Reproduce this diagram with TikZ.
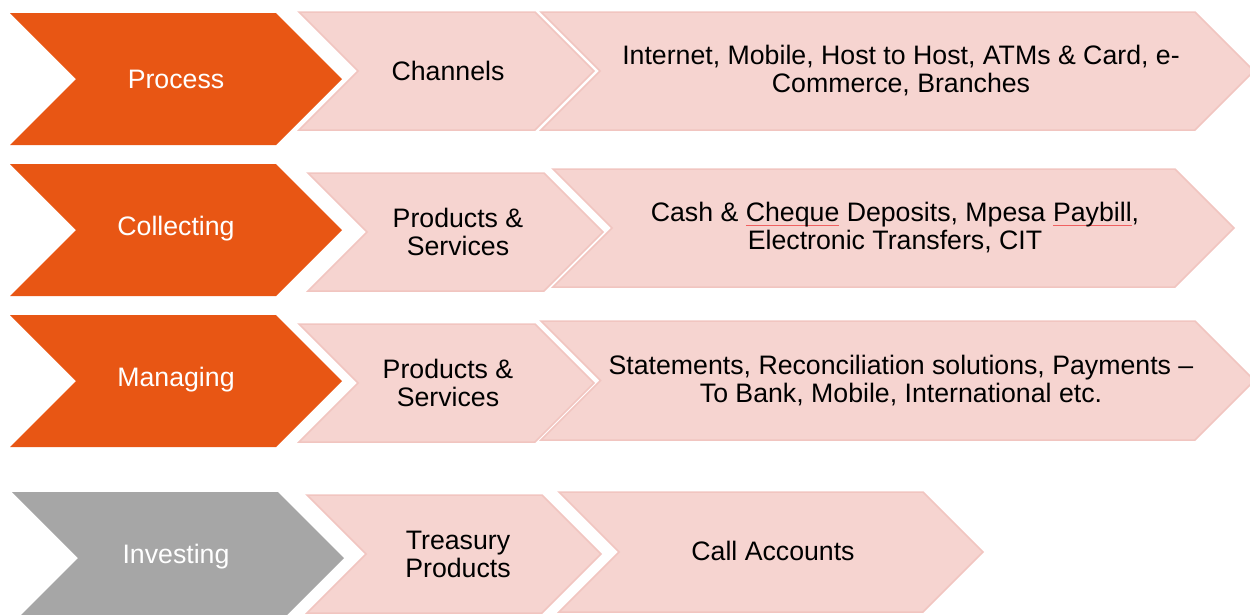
\documentclass[tikz,border=0pt]{standalone}
\usepackage{fontspec}
\setmainfont{Liberation Sans}
\definecolor{orng}{HTML}{E85614}
\definecolor{pinkfill}{HTML}{F6D4D0}
\definecolor{pinkline}{HTML}{F1C5C0}
\definecolor{graych}{HTML}{A6A6A6}
\definecolor{spellred}{HTML}{F06060}
\newcommand\spellul[1]{\setbox0\hbox{#1}\rlap{\color{spellred}\rule[-4pt]{\wd0}{0.9pt}}\box0\relax}
% #1 style, #2 left x, #3 right corner x, #4 top y, #5 bottom y
\newcommand\chev[5]{%
  \path[#1] (#2,#4) -- (#3,#4) -- ({#3+(#5-#4)/2},{(#4+#5)/2}) -- (#3,#5) -- (#2,#5) -- ({#2+(#5-#4)/2},{(#4+#5)/2}) -- cycle;}
\tikzset{
  lead/.style={fill=orng},
  leadgray/.style={fill=graych},
  follow/.style={fill=pinkfill, draw=pinkline, line width=1.5pt, line join=miter},
  whitetxt/.style={text=white, font=\fontsize{26.7}{28}\selectfont, align=center, inner sep=0pt},
  blacktxt/.style={text=black, font=\fontsize{26.7}{28}\selectfont, align=center, inner sep=0pt},
}
\begin{document}
\begin{tikzpicture}[x=1pt,y=-1pt]
\useasboundingbox (0,0) rectangle (1250,614);
\clip (0,0) rectangle (1250,614);
% Row 1
\chev{lead}{10}{276}{13}{145}
\chev{follow}{299}{535}{12}{130}
\chev{follow}{541}{1195}{12}{130}
\node[whitetxt] (process) at (176,79) {Process};
\node[blacktxt] (channels) at (448,71) {Channels};
\node[blacktxt] (chanlist) at (901,71) {Internet, Mobile, Host to Host, ATMs \& Card, e-\\Commerce, Branches};
% Row 2
\chev{lead}{10}{276}{164}{296}
\chev{follow}{308}{544}{173}{291}
\chev{follow}{553}{1175}{169}{287}
\node[whitetxt] (collecting) at (176,229) {Collecting};
\node[blacktxt] (prodserv1) at (458,232) {Products \&\\Services};
\node[blacktxt] (collist) at (895,228) {Cash \& \spellul{Cheque} Deposits, Mpesa \spellul{Paybill},\\Electronic Transfers, CIT};
% Row 3
\chev{lead}{10}{276}{315}{447}
\chev{follow}{299}{535}{324}{442}
\chev{follow}{541}{1195}{321}{440}
\node[whitetxt] (managing) at (176,380) {Managing};
\node[blacktxt] (prodserv2) at (448,383) {Products \&\\Services};
\node[blacktxt] (manlist) at (901,381) {Statements, Reconciliation solutions, Payments --\\To Bank, Mobile, International etc.};
% Row 4
\chev{leadgray}{12}{278}{492}{624}
\chev{follow}{307}{542}{495}{613}
\chev{follow}{559}{923}{492}{612}
\node[whitetxt] (investing) at (176,557) {Investing};
\node[blacktxt] (treasury) at (458,554) {Treasury\\Products};
\node[blacktxt] (callacc) at (773,551) {Call Accounts};
\end{tikzpicture}
\end{document}
